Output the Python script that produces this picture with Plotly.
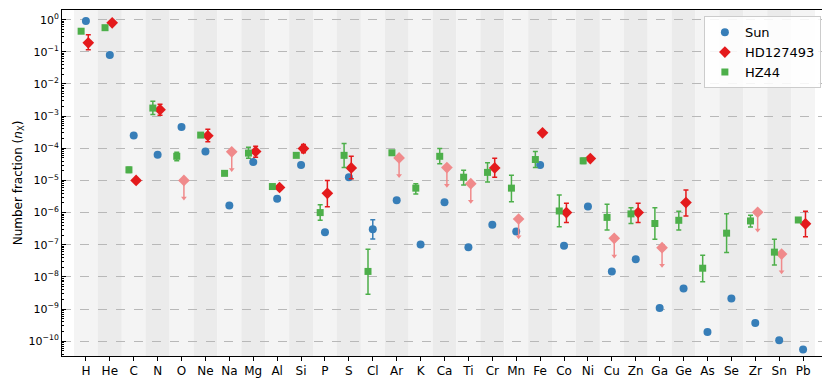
import numpy as np
import plotly.graph_objects as go

elements = ["H", "He", "C", "N", "O", "Ne", "Na", "Mg", "Al", "Si", "P", "S", "Cl", "Ar", "K",
            "Ca", "Ti", "Cr", "Mn", "Fe", "Co", "Ni", "Cu", "Zn", "Ga", "Ge", "As", "Se", "Zr",
            "Sn", "Pb"]

# Sun: log10 number fractions
sun_log = [-0.04, -1.10, -3.60, -4.20, -3.34, -4.10, -5.78, -4.43, -5.57, -4.52, -6.61, -4.90,
           -6.52, -5.62, -6.99, -5.68, -7.08, -6.38, -6.59, -4.52, -7.03, -5.81, -7.83, -7.45,
           -8.97, -8.36, -9.71, -8.67, -9.43, -9.97, -10.26]
sun_err_hi = [0] * 12 + [0.30] + [0] * 18
sun_err_lo = [0] * 12 + [0.30] + [0] * 18

# HD127493 measurements (log10), None where only an upper limit exists
hd_log = [-0.72, -0.10, -5.00, -2.80, None, -3.61, None, -4.10, -5.22, -4.01, -5.40, -4.61,
          None, None, None, None, None, -4.61, None, -3.52, -6.00, -4.32, None, -6.00,
          None, -5.69, None, None, None, None, -6.35]
hd_err_hi = [0.25, 0, 0, 0.17, 0, 0.20, 0, 0.16, 0, 0.13, 0.40, 0.36,
             0, 0, 0, 0, 0, 0.30, 0, 0, 0.29, 0, 0, 0.29,
             0, 0.39, 0, 0, 0, 0, 0.39]
hd_err_lo = [0.22, 0, 0, 0.17, 0, 0.19, 0, 0.18, 0, 0.13, 0.42, 0.34,
             0, 0, 0, 0, 0, 0.29, 0, 0, 0.31, 0, 0, 0.31,
             0, 0.42, 0, 0, 0, 0, 0.40]
# HD127493 upper limits (log10)
hd_lim_log = [None, None, None, None, -5.00, None, -4.11, None, None, None, None, None,
              None, -4.30, None, -4.60, -5.10, None, -6.20, None, None, None, -6.80, None,
              -7.09, None, None, None, -5.99, -7.29, None]

# HZ44 (log10)
hz_log = [-0.36, -0.25, -4.67, -2.75, -4.25, -3.59, -4.78, -4.15, -5.19, -4.22, -6.00, -4.22,
          -7.83, -4.14, -5.24, -4.25, -4.90, -4.75, -5.24, -4.35, -5.95, -4.39, -6.15, -6.04,
          -6.34, -6.24, -7.73, -6.64, -6.26, -7.23, -6.23]
hz_err_hi = [0, 0, 0.08, 0.21, 0.13, 0.05, 0, 0.18, 0, 0.05, 0.24, 0.37,
             0.69, 0.05, 0.14, 0.24, 0.22, 0.30, 0.40, 0.25, 0.50, 0.08, 0.41, 0.19,
             0.49, 0.28, 0.40, 0.60, 0.18, 0.40, 0]
hz_err_lo = [0, 0, 0.08, 0.20, 0.14, 0.05, 0, 0.16, 0, 0.05, 0.24, 0.38,
             0.71, 0.05, 0.18, 0.23, 0.24, 0.30, 0.42, 0.25, 0.49, 0.08, 0.39, 0.30,
             0.49, 0.30, 0.42, 0.60, 0.19, 0.40, 0]

decades = list(range(-10, 1))
decade_labels = ["10<sup>%s</sup>" % (str(d).replace("-", "\u2212")) for d in decades]

ARROW = 0.55  # length of upper-limit arrows in dex

idx = np.arange(len(elements))


def lin(vals):
    return [None if v is None else 10 ** v for v in vals]


def errs(vals, hi, lo):
    up = [None if v is None else 10 ** (v + h) - 10 ** v for v, h in zip(vals, hi)]
    dn = [None if v is None else 10 ** v - 10 ** (v - l) for v, l in zip(vals, lo)]
    return up, dn


BLUE, RED, GREEN, PINK = "#377eb8", "#e41a1c", "#4daf4a", "#f08a8b"

fig = go.Figure()

# alternating background stripes
for i in idx:
    fig.add_shape(type="rect", xref="x", yref="paper", x0=i - 0.5, x1=i + 0.5, y0=0, y1=1,
                  fillcolor="#f4f4f4" if i % 2 == 0 else "#ebebeb", line_width=0, layer="below")

up, dn = errs(sun_log, sun_err_hi, sun_err_lo)
fig.add_trace(go.Scatter(
    x=idx, y=lin(sun_log), mode="markers", name="Sun",
    marker=dict(symbol="circle", size=8, color=BLUE),
    error_y=dict(type="data", array=up, arrayminus=dn, color=BLUE, thickness=1.5, width=2.5)))

up, dn = errs(hd_log, hd_err_hi, hd_err_lo)
fig.add_trace(go.Scatter(
    x=idx + 0.1, y=lin(hd_log), mode="markers", name="HD127493",
    marker=dict(symbol="diamond", size=9, color=RED),
    error_y=dict(type="data", array=up, arrayminus=dn, color=RED, thickness=1.5, width=2.5)))

# upper limits: line down to an arrow tip
lim_dn = [None if v is None else 10 ** v - 10 ** (v - ARROW) for v in hd_lim_log]
fig.add_trace(go.Scatter(
    x=idx + 0.1, y=lin(hd_lim_log), mode="markers", showlegend=False, hoverinfo="skip",
    marker=dict(symbol="diamond", size=9, color=PINK),
    error_y=dict(type="data", symmetric=False, array=[0] * len(idx), arrayminus=lim_dn,
                 color=PINK, thickness=1.5, width=0)))
fig.add_trace(go.Scatter(
    x=idx + 0.1, y=[None if v is None else 10 ** (v - ARROW) for v in hd_lim_log],
    mode="markers", showlegend=False, hoverinfo="skip",
    marker=dict(symbol="triangle-down", size=5, color=PINK)))

up, dn = errs(hz_log, hz_err_hi, hz_err_lo)
fig.add_trace(go.Scatter(
    x=idx - 0.2, y=lin(hz_log), mode="markers", name="HZ44",
    marker=dict(symbol="square", size=7, color=GREEN),
    error_y=dict(type="data", array=up, arrayminus=dn, color=GREEN, thickness=1.5, width=2.5)))

minor_vals = [k * 10.0 ** d for d in range(-11, 1) for k in range(2, 10)]

fig.update_xaxes(
    range=[-1, 31], tickvals=idx, ticktext=elements, showgrid=False, zeroline=False,
    showline=True, mirror=True, linecolor="black", linewidth=1, automargin=False,
    ticks="outside", ticklen=4, tickcolor="black", tickfont=dict(size=12, color="black"))
fig.update_yaxes(
    type="log", range=[-10.46, 0.30], tickvals=[10.0 ** d for d in decades], ticktext=decade_labels,
    showline=True, mirror="allticks", linecolor="black", linewidth=1, automargin=False,
    ticks="inside", ticklen=4, tickcolor="black", tickfont=dict(size=11, color="black"),
    minor=dict(tickvals=minor_vals, ticks="inside", ticklen=2, tickcolor="black", showgrid=False),
    showgrid=True, gridcolor="#b8b8b8", griddash="dash", gridwidth=1, zeroline=False,
    title=dict(text="Number fraction (<i>n</i><sub>X</sub>)", font=dict(size=12, color="black"),
               standoff=3))

# the page body adds an 8px offset, so the figure is 8px smaller and shifted
fig.update_layout(
    width=822, height=370, margin=dict(l=54, r=3, t=2, b=22),
    plot_bgcolor="white", paper_bgcolor="white",
    font=dict(family="DejaVu Sans", color="black"),
    legend=dict(x=0.992, y=0.982, xanchor="right", yanchor="top", bgcolor="rgba(255,255,255,0.85)",
                bordercolor="#cccccc", borderwidth=1, font=dict(size=13), itemwidth=30,
                tracegroupgap=0),
)

fig.write_html("out.html")
